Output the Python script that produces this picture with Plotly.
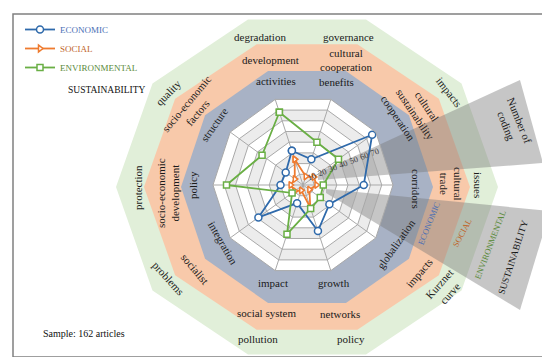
import numpy as np
import plotly.graph_objects as go

# ---------------- data ----------------
categories = ["activities", "benefits", "cooperation", "corridors", "globalization",
              "growth", "impact", "integration", "policy", "structure"]
economic = [32, 24, 76, 54, 29, 43, 17, 49, 20, 19]
social = [24, 8, 12, 12, 7, 21, 5, 9, 11, 9]
environmental = [68, 40, 39, 18, 19, 22, 46, 12, 68, 45]
radial_ticks = [10, 20, 30, 40, 50, 60, 70]
series_names = ["ECONOMIC", "SOCIAL", "ENVIRONMENTAL"]

# ---------------- geometry / style ----------------
W, H = 550, 357
CX, CY, R = 295, 177, 90          # radar centre and outer radius (px)
RMAX = 80
RCX, RCY = 299, 179               # ring centre
SERIF = "Liberation Serif, DejaVu Serif, serif"

def decagon(cx, cy, rx, ry):
    a = np.deg2rad(np.arange(0, 361, 36))
    return cx + rx * np.cos(a), cy - ry * np.sin(a)

fig = go.Figure()

def fill_poly(x, y, color):
    fig.add_trace(go.Scatter(x=list(x), y=list(y), mode="lines", fill="toself",
                             fillcolor=color, line=dict(width=0), hoverinfo="skip",
                             showlegend=False, xaxis="x", yaxis="y"))

# rings
fill_poly(*decagon(RCX, RCY, 191, 176), "#e1efd9")
fill_poly(*decagon(RCX, RCY, 163, 150), "#f8c9aa")
fill_poly(*decagon(RCX, RCY, 126, 122), "#a8b2c5")
# radar bands
for k in range(8, 0, -1):
    rr = k * R / RMAX * 10
    fill_poly(*decagon(CX, CY, rr, rr), "#ffffff" if (8 - k) % 2 == 0 else "#ececec")

# grey callout wedges
fill_poly([310, 512, 535, 310, 310], [165, 72, 155, 172, 165], "rgba(120,120,120,0.42)")
fill_poly([318, 542, 512, 318, 318], [181, 203, 302, 185, 181], "rgba(120,120,120,0.42)")

# ---------------- radar series ----------------
colors = ["#2f6aab", "#ef7b2f", "#6aaf45"]
legend_colors = ["#4a6fb5", "#c0652a", "#5a8a3a"]
symbols = ["circle", "triangle-right", "square"]
msize = [7, 6, 6]
for name, vals, c, lc, sym, ms in zip(series_names, [economic, social, environmental],
                                       colors, legend_colors, symbols, msize):
    fig.add_trace(go.Scatterpolar(
        r=vals + [vals[0]], theta=categories + [categories[0]],
        mode="lines+markers", name=f"<span style='color:{lc}'>{name}</span>",
        line=dict(color=c, width=1.8),
        marker=dict(symbol=sym, size=ms, color="white", line=dict(color=c, width=1.5)),
        subplot="polar", legendgroup=name))

# helper subplot that only carries the slanted radial tick labels
fig.add_trace(go.Scatterpolar(r=[0], theta=[0], mode="markers", marker=dict(opacity=0),
                              hoverinfo="skip", showlegend=False, subplot="polar2"))

# ---------------- annotations ----------------
ann = []
def txt(t, x, y, ang=0, size=11, color="#1a1a1a"):
    ann.append(dict(text=t, x=x, y=y, xref="x", yref="y", showarrow=False,
                    textangle=ang, font=dict(family=SERIF, size=size, color=color)))

# inner (blue) ring labels
for t, x, y, a in [("activities", 268, 73, 0), ("benefits", 328, 74, 0),
                   ("cooperation", 390, 110, 56), ("corridors", 408, 181, 90),
                   ("globalization", 388, 236, -55), ("growth", 326, 275, 0),
                   ("impact", 265, 275, 0), ("integration", 215, 235, 60),
                   ("policy", 185, 177, -90), ("structure", 206, 117, -55)]:
    txt(t, x, y, a)
# middle (orange) ring labels
for t, x, y, a in [("development", 262, 52, 0), ("cultural<br>cooperation", 338, 52, 0),
                   ("cultural<br>sustainability", 413, 102, 56), ("cultural<br>trade", 443, 176, 90),
                   ("impacts", 411, 265, -50), ("networks", 332, 306, 0),
                   ("social system", 258, 305, 0), ("socialist", 187, 261, 50),
                   ("socio-economic<br>development", 160, 185, -90),
                   ("socio-economic<br>factors", 184, 100, -50)]:
    txt(t, x, y, a)
# outer (green) ring labels
for t, x, y, a in [("degradation", 252, 29, 0), ("governance", 340, 29, 0),
                   ("impacts", 441, 84, 52), ("issues", 470, 177, 90),
                   ("Kurznet<br>curve", 436, 281, -48), ("policy", 343, 331, 0),
                   ("pollution", 250, 331, 0), ("problems", 160, 270, 48),
                   ("protection", 130, 180, -90), ("quality", 160, 85, -46)]:
    txt(t, x, y, a)

# callouts
txt("Number of<br>coding", 505, 115, 68, 11)
txt("ECONOMIC", 421, 215, -68, 8.5, legend_colors[0])
txt("SOCIAL", 454, 225, -62, 8.5, legend_colors[1])
txt("ENVIRONMENTAL", 482, 237, -69, 8.5, legend_colors[2])
txt("SUSTAINABILITY", 505, 250, -72, 9.5, "#111111")
# legend caption & sample
txt("SUSTAINABILITY", 98, 82, 0, 9.5, "#111111")
txt("Sample: 162 articles", 76, 325, 0, 10, "#111111")

dom = dict(x=[(CX - R) / W, (CX + R) / W], y=[(H - CY - R) / H, (H - CY + R) / H])
fig.update_layout(
    width=W, height=H, margin=dict(l=0, r=0, t=0, b=0),
    paper_bgcolor="white", plot_bgcolor="rgba(0,0,0,0)",
    xaxis=dict(range=[0, W], visible=False, domain=[0, 1], fixedrange=True),
    yaxis=dict(range=[H, 0], visible=False, domain=[0, 1], fixedrange=True),
    polar=dict(
        domain=dom, bgcolor="rgba(0,0,0,0)", gridshape="linear",
        angularaxis=dict(direction="clockwise", rotation=108, showticklabels=False, ticks="",
                         gridcolor="#a9a9a9", linecolor="#a9a9a9", showline=True, linewidth=1),
        radialaxis=dict(range=[0, RMAX], tickvals=radial_ticks, showline=False, ticks="",
                        gridcolor="#a9a9a9", showticklabels=False),
    ),
    polar2=dict(
        domain=dom, bgcolor="rgba(0,0,0,0)",
        angularaxis=dict(visible=False),
        radialaxis=dict(range=[0, RMAX], tickvals=radial_ticks, showline=False, ticks="",
                        showgrid=False, angle=21, side="counterclockwise", tickangle=0,
                        tickfont=dict(family=SERIF, size=8.5, color="#404040")),
    ),
    legend=dict(x=12 / W, y=1 - 7 / H, xanchor="left", yanchor="top",
                bgcolor="rgba(0,0,0,0)", font=dict(family=SERIF, size=9),
                tracegroupgap=0),
    annotations=ann,
    shapes=[dict(type="rect", xref="x", yref="y", x0=5, y0=6, x1=545, y1=349,
                 line=dict(color="#808080", width=1.5), layer="above")],
    showlegend=True,
)

fig.write_html("out.html")
